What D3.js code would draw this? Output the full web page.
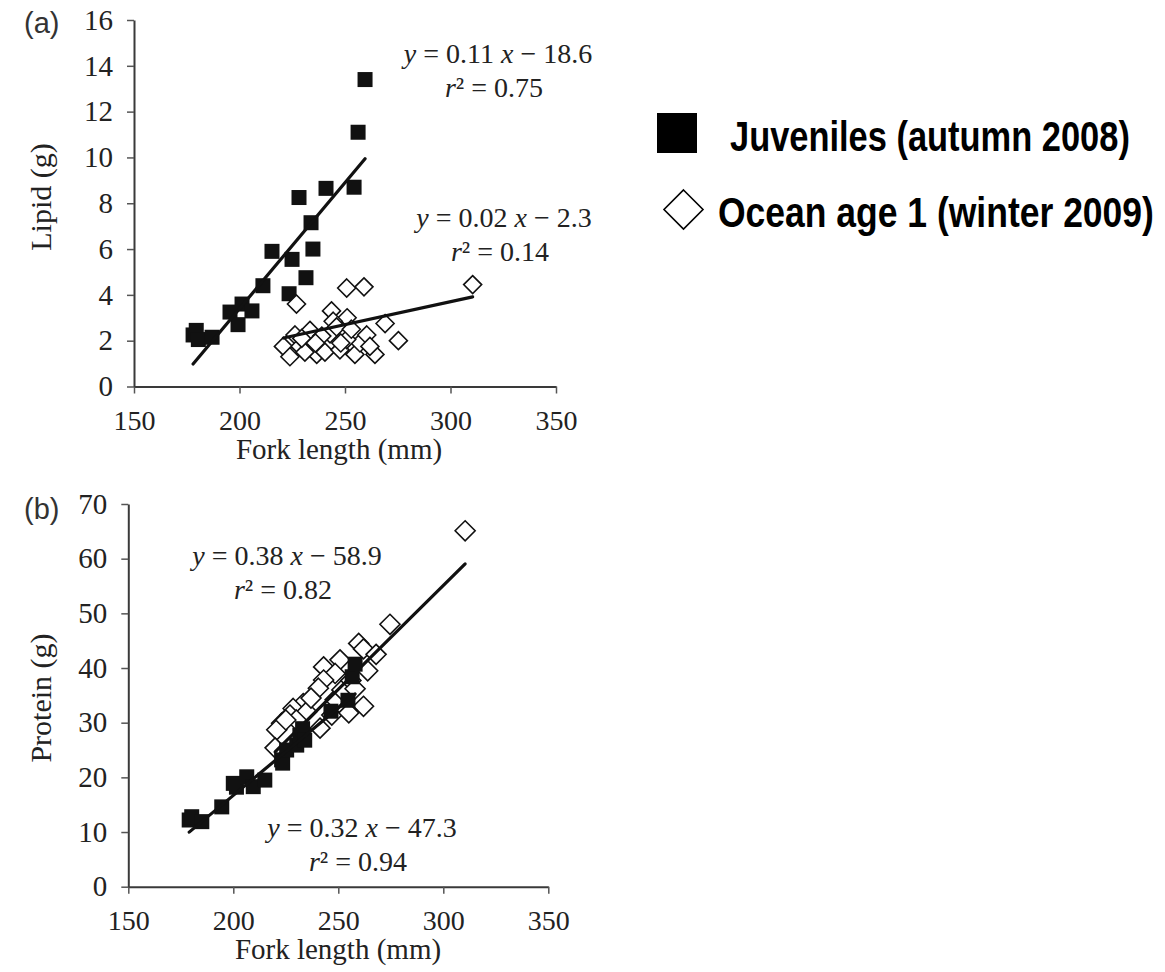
<!DOCTYPE html>
<html>
<head>
<meta charset="utf-8">
<script src="https://cdn.jsdelivr.net/npm/d3@7"></script>
<style>
  body { margin: 0; background: #fff; }
  svg { display: block; }
</style>
</head>
<body>
<svg id="chart" width="1165" height="972"></svg>
<script>
// ---- Data: fork length (mm) and body composition (g) per fish ----
const lengthTicks = [150, 200, 250, 300, 350];
const lipidTicks = [0, 2, 4, 6, 8, 10, 12, 14, 16];
const proteinTicks = [0, 10, 20, 30, 40, 50, 60, 70];

const seriesNames = ["Juveniles (autumn 2008)", "Ocean age 1 (winter 2009)"];

// (a) lipid
const lipidJuvFL = [178, 179.5, 180.5, 187, 195.5, 199.3, 201.2, 205.9, 211.1, 215.4,
                    223.5, 224.9, 228.2, 231.5, 233.9, 234.8, 241, 254.3, 256.2, 259.5];
const lipidJuv   = [2.25, 2.45, 2.05, 2.15, 3.25, 2.7, 3.6, 3.3, 4.4, 5.9,
                    4.05, 5.55, 8.25, 4.75, 7.15, 6.0, 8.65, 8.7, 11.1, 13.4];
const lipidOceanFL = [310.5, 250.8, 259, 227, 243.6, 251, 244.4, 269, 275.3, 226.3,
                      233.4, 220.8, 223.9, 236.6, 240.5, 247.6, 254.7, 257.1, 260.3, 264.2,
                      261.8, 250.8, 242.9, 246, 239, 228.7, 231, 229.5, 236, 253, 248];
const lipidOcean   = [4.45, 4.3, 4.35, 3.6, 3.3, 3.0, 2.85, 2.75, 2.0, 2.25,
                      2.45, 1.75, 1.3, 1.4, 1.5, 1.6, 1.4, 1.9, 2.25, 1.4,
                      1.75, 2.05, 2.3, 2.6, 2.2, 1.75, 1.5, 2.1, 1.9, 2.5, 1.9];

// (b) protein
const proteinJuvFL = [179, 180.2, 185, 194.5, 200, 201.5, 206.4, 209.5, 215, 223,
                      223.5, 225.4, 230.2, 231.7, 233, 234, 246.5, 254.6, 256.6, 258];
const proteinJuv   = [12.2, 12.8, 11.9, 14.6, 18.9, 18.2, 20.1, 18.3, 19.5, 23.2,
                      22.6, 25.0, 25.9, 27.7, 28.9, 26.8, 32.1, 34.1, 38.4, 40.7];
const proteinOceanFL = [310.4, 274.6, 259.7, 262, 268, 264, 262, 243, 250.8, 248.5,
                        243, 240.5, 233.3, 228.5, 227, 235, 223, 220.7, 241.3, 246.9,
                        248.5, 254, 251.7, 219.9, 256, 258, 255, 230, 237, 225];
const proteinOcean   = [65.1, 48.0, 44.5, 43.5, 42.5, 39.5, 33.0, 40.2, 41.5, 39.0,
                        37.8, 36.3, 33.5, 32.6, 31.4, 32.0, 29.9, 28.7, 29.0, 31.4,
                        34.2, 32.3, 36.0, 25.4, 37.7, 36.2, 31.8, 30.5, 34.5, 30.5];

// Linear fits: [juveniles, ocean age 1]
const lipidSlopes = [0.11, 0.02];
const lipidIntercepts = [-18.6, -2.3];
const lipidR2 = [0.75, 0.14];
const proteinSlopes = [0.32, 0.38];
const proteinIntercepts = [-47.3, -58.9];
const proteinR2 = [0.94, 0.82];

// ---- Drawing ----
const svg = d3.select("#chart");
const serif = '"Liberation Serif", "Times New Roman", Times, serif';
const sans = '"Liberation Sans", Arial, Helvetica, sans-serif';
const ink = "#111";

const diamondPath = r => `M0,${-r}L${r},0L0,${r}L${-r},0Z`;

function drawPanel(cfg) {
  const g = svg.append("g");
  const x = d3.scaleLinear().domain([150, 350]).range([cfg.left, cfg.right]);
  const y = d3.scaleLinear().domain([0, cfg.ymax]).range([cfg.bottom, cfg.top]);

  // axes
  const gx = g.append("g")
    .attr("transform", `translate(0,${cfg.bottom})`)
    .call(d3.axisBottom(x).tickValues(lengthTicks).tickSize(7).tickSizeOuter(0));
  const gy = g.append("g")
    .attr("transform", `translate(${cfg.left},0)`)
    .call(d3.axisLeft(y).tickValues(cfg.ticks).tickSize(7).tickSizeOuter(0).tickPadding(14));

  [gx, gy].forEach(a => {
    a.attr("font-family", serif).attr("font-size", 29);
    a.select(".domain").attr("stroke", "#3a3a3a").attr("stroke-width", 2);
    a.selectAll(".tick line").attr("stroke", "#555").attr("stroke-width", 1.5);
    a.selectAll(".tick text")
      .attr("fill", "#222")
      .attr("font-family", serif)
      .style("font-family", serif);
  });
  gy.selectAll(".tick text").attr("font-size", 29);
  gx.selectAll(".tick text").attr("font-size", 28).attr("y", 43).attr("dy", null);

  // axis titles
  g.append("text")
    .attr("x", cfg.xTitleX).attr("y", cfg.bottom + 72)
    .attr("text-anchor", "middle").attr("font-family", serif).attr("font-size", 29)
    .attr("fill", "#222").text("Fork length (mm)");
  g.append("text")
    .attr("transform", `translate(${cfg.yTitleX},${cfg.yTitleY}) rotate(-90)`)
    .attr("text-anchor", "middle").attr("font-family", serif).attr("font-size", 30)
    .attr("fill", "#222").text(cfg.yTitle);

  // panel letter
  g.append("text")
    .attr("x", 24).attr("y", cfg.letterY)
    .attr("font-family", sans).attr("font-size", 29).attr("fill", "#333")
    .text(cfg.letter);

  const juv = cfg.juvX.map((v, i) => [v, cfg.juvY[i]]);
  const ocean = cfg.oceanX.map((v, i) => [v, cfg.oceanY[i]]);
  const s = cfg.sq;

  const drawSquares = () => g.append("g").selectAll("rect").data(juv).join("rect")
    .attr("x", d => x(d[0]) - s / 2).attr("y", d => y(d[1]) - s / 2)
    .attr("width", s).attr("height", s).attr("fill", ink);
  const drawDiamonds = () => g.append("g").selectAll("path").data(ocean).join("path")
    .attr("transform", d => `translate(${x(d[0])},${y(d[1])})`)
    .attr("d", diamondPath(cfg.dr)).attr("fill", "#fff")
    .attr("stroke", ink).attr("stroke-width", 1.6);

  if (cfg.squaresFirst) { drawSquares(); drawDiamonds(); }
  else { drawDiamonds(); drawSquares(); }

  // regression lines over each series' length range
  const line = d3.line().x(d => x(d[0])).y(d => y(d[1]));
  [cfg.juvX, cfg.oceanX].forEach((xs, i) => {
    const [lo, hi] = d3.extent(xs);
    const f = v => cfg.slopes[i] * v + cfg.intercepts[i];
    g.append("path").datum([[lo, f(lo)], [hi, f(hi)]])
      .attr("d", line).attr("fill", "none").attr("stroke", ink)
      .attr("stroke-width", 3.2).attr("stroke-linecap", "round");
  });

  // equation labels
  cfg.eqPos.forEach((p, i) => {
    const t = g.append("text").attr("x", p[0]).attr("y", p[1])
      .attr("text-anchor", "middle").attr("font-family", serif)
      .attr("font-size", 28).attr("fill", "#222");
    t.append("tspan").attr("font-style", "italic").text("y");
    t.append("tspan").text(` = ${cfg.slopes[i].toFixed(2)} `);
    t.append("tspan").attr("font-style", "italic").text("x");
    t.append("tspan").text(` \u2212 ${Math.abs(cfg.intercepts[i]).toFixed(1)}`);
    const r = g.append("text").attr("x", p[0] - 4).attr("y", p[1] + 34)
      .attr("text-anchor", "middle").attr("font-family", serif)
      .attr("font-size", 28).attr("fill", "#222");
    r.append("tspan").attr("font-style", "italic").text("r");
    r.append("tspan").text(`\u00b2 = ${cfg.r2[i].toFixed(2)}`);
  });
}

drawPanel({
  left: 134, right: 556, top: 20, bottom: 386.5, ymax: 16, ticks: lipidTicks,
  xTitleX: 339, yTitle: "Lipid (g)", yTitleX: 51, yTitleY: 197, letter: "(a)", letterY: 33,
  juvX: lipidJuvFL, juvY: lipidJuv, oceanX: lipidOceanFL, oceanY: lipidOcean,
  slopes: lipidSlopes, intercepts: lipidIntercepts, r2: lipidR2,
  eqPos: [[498, 63], [504, 227]], sq: 15, dr: 9, squaresFirst: true
});

drawPanel({
  left: 128.3, right: 548.3, top: 504, bottom: 886.7, ymax: 70, ticks: proteinTicks,
  xTitleX: 338, yTitle: "Protein (g)", yTitleX: 51, yTitleY: 698, letter: "(b)", letterY: 519,
  juvX: proteinJuvFL, juvY: proteinJuv, oceanX: proteinOceanFL, oceanY: proteinOcean,
  slopes: proteinSlopes, intercepts: proteinIntercepts, r2: proteinR2,
  eqPos: [[362, 837], [287, 565]], sq: 15, dr: 10, squaresFirst: false
});

// ---- Legend ----
const legend = svg.append("g");
legend.append("rect").attr("x", 657).attr("y", 113).attr("width", 40).attr("height", 40)
  .attr("fill", "#000");
legend.append("path").attr("transform", "translate(683.5,209.5)")
  .attr("d", diamondPath(19.5)).attr("fill", "#fff").attr("stroke", "#000")
  .attr("stroke-width", 1.6);
const legendFont = '"Liberation Sans Narrow", "Arial Narrow", "Liberation Sans", Arial, sans-serif';
// [left, baseline, rendered width]
[[730, 151, 400], [718, 227, 436]].forEach((p, i) => {
  const t = legend.append("text")
    .attr("font-family", legendFont).attr("font-weight", "bold").attr("font-size", 42)
    .attr("fill", "#000").text(seriesNames[i]);
  const natural = t.node().getComputedTextLength();
  t.attr("transform", `translate(${p[0]},${p[1]}) scale(${p[2] / natural},1)`);
});
</script>
</body>
</html>
